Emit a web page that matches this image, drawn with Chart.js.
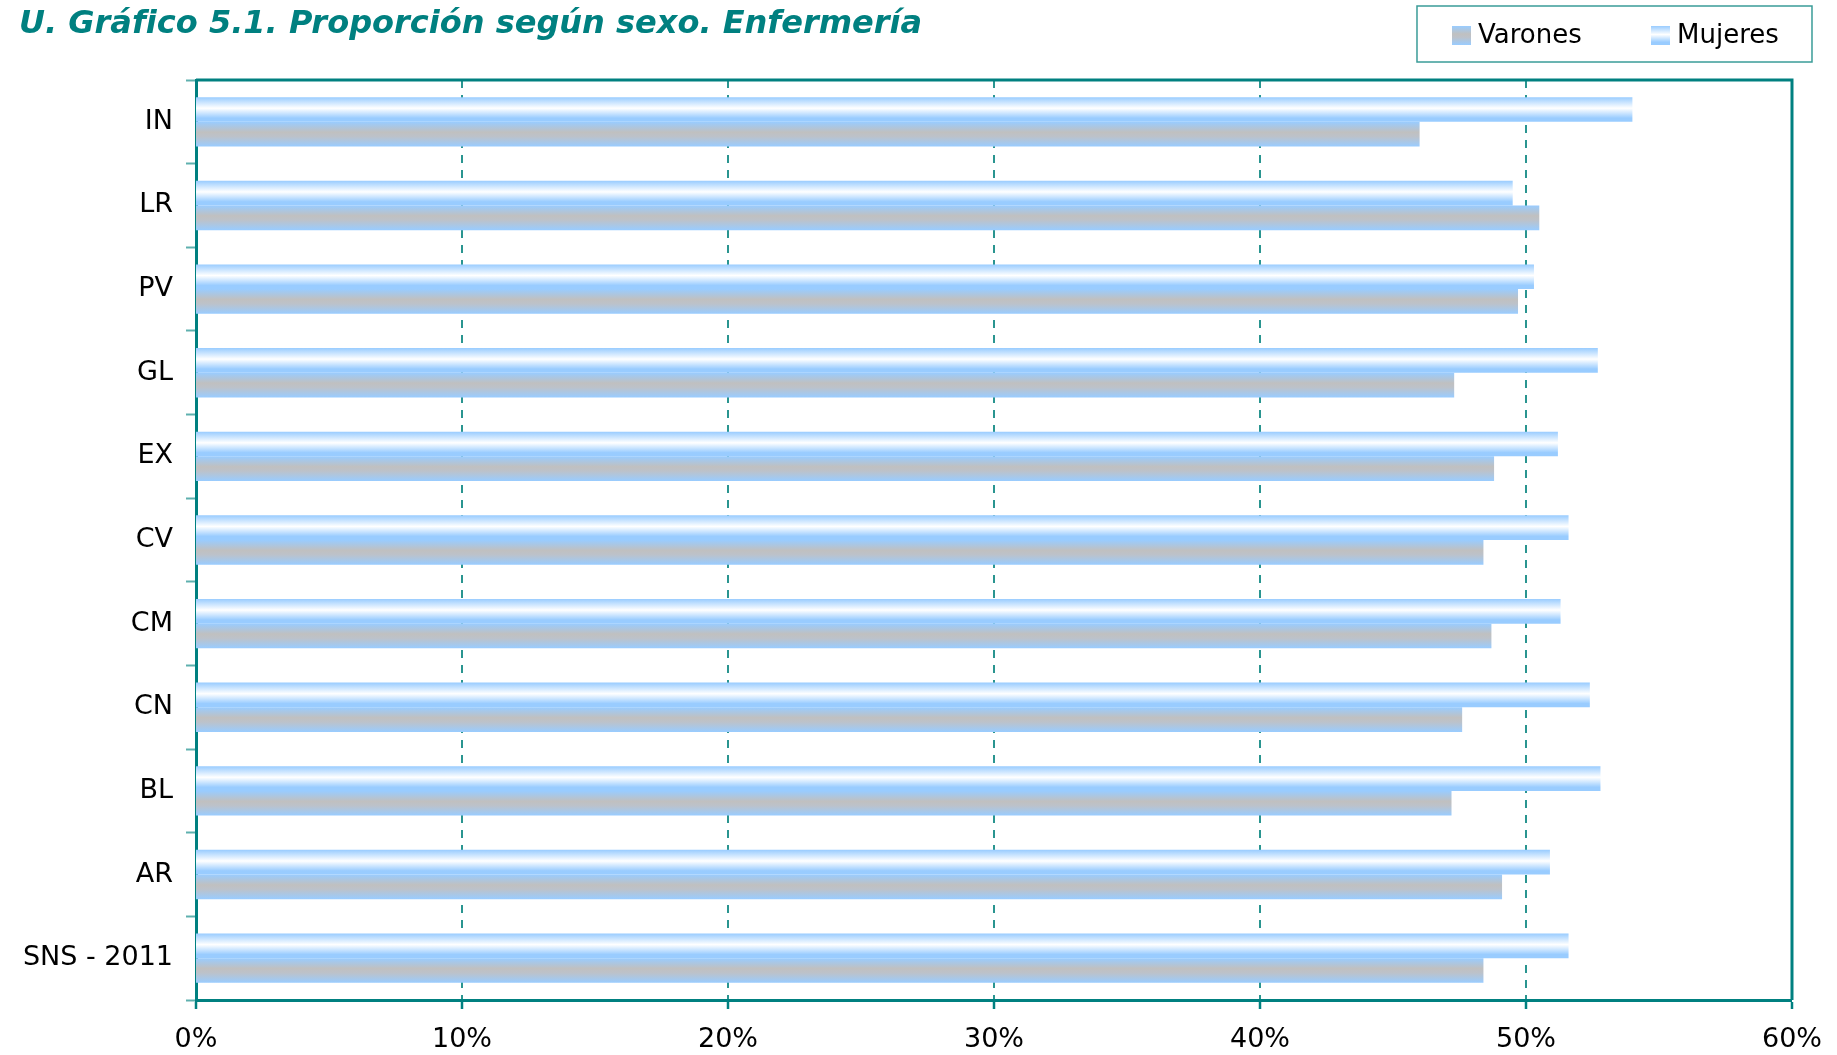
<!DOCTYPE html>
<html lang="es">
  <head>
    <meta charset="UTF-8" />
    <title>Proporción según sexo. Enfermería</title>
    <script src="https://cdn.jsdelivr.net/npm/chart.js"></script>
    <style>
      html, body { margin: 0; padding: 0; background: #fff; }
      #wrap { width: 1837px; height: 1055px; position: relative; }
    </style>
    <script>
      const labels = ["IN", "LR", "PV", "GL", "EX", "CV", "CM", "CN", "BL", "AR", "SNS - 2011"];
      const varones = [46.0, 50.5, 49.7, 47.3, 48.8, 48.4, 48.7, 47.6, 47.2, 49.1, 48.4];
      const mujeres = [54.0, 49.5, 50.3, 52.7, 51.2, 51.6, 51.3, 52.4, 52.8, 50.9, 51.6];
      const xTicks = [0, 10, 20, 30, 40, 50, 60];
      const titleText = "U. Gráfico 5.1. Proporción según sexo. Enfermería";

      const TEAL = "#008080";
      const FONT = "'DejaVu Sans', Verdana, sans-serif";
      const CAT_PCT = 0.59;

      const MUJERES_STOPS = [[0, "#99ccff"], [0.45, "#ffffff"], [0.85, "#99ccff"], [1, "#99ccff"]];
      const VARONES_STOPS = [[0, "#99ccff"], [0.42, "#c0c0c0"], [0.6, "#bcc2ca"], [1, "#99ccff"]];

      function makeGradient(ctx2d, top, height, stops) {
        const g = ctx2d.createLinearGradient(0, top, 0, top + height);
        stops.forEach(([p, c]) => g.addColorStop(p, c));
        return g;
      }

      // slot 0 = upper bar of the group, slot 1 = lower bar
      function barFill(stops, slot) {
        return (ctx) => {
          const chart = ctx.chart;
          const yScale = chart.scales.y;
          if (ctx.type !== "data" || !yScale) return stops[0][1];
          const band = (yScale.bottom - yScale.top) / labels.length;
          const size = (band * CAT_PCT) / 2;
          const center = yScale.getPixelForValue(ctx.dataIndex);
          const top = center - size + slot * size;
          if (!isFinite(top) || !isFinite(size) || size <= 0) return stops[0][1];
          return makeGradient(chart.ctx, top, size, stops);
        };
      }

      const frameAndLegend = {
        id: "frameAndLegend",
        afterDraw(chart) {
          const { ctx, chartArea } = chart;
          ctx.save();
          // top and right frame lines
          ctx.strokeStyle = TEAL;
          ctx.lineWidth = 3;
          ctx.beginPath();
          ctx.moveTo(chartArea.left, chartArea.top);
          ctx.lineTo(chartArea.right, chartArea.top);
          ctx.lineTo(chartArea.right, chartArea.bottom);
          ctx.stroke();

          // title
          ctx.fillStyle = TEAL;
          ctx.font = "italic bold 32px " + FONT;
          ctx.textBaseline = "alphabetic";
          ctx.textAlign = "left";
          ctx.fillText(titleText, 19, 33);

          // legend box
          const boxRight = chartArea.right + 20;
          const boxLeft = boxRight - 395;
          ctx.strokeStyle = "#3a9c98";
          ctx.lineWidth = 1.5;
          ctx.strokeRect(boxLeft, 6, 395, 56);
          const items = [
            ["Varones", VARONES_STOPS, boxLeft + 35],
            ["Mujeres", MUJERES_STOPS, boxLeft + 234],
          ];
          ctx.font = "26px " + FONT;
          ctx.textBaseline = "middle";
          items.forEach(([text, stops, x]) => {
            ctx.fillStyle = makeGradient(ctx, 26, 19, stops);
            ctx.fillRect(x, 26, 19, 19);
            ctx.fillStyle = "#000";
            ctx.fillText(text, x + 26, 36);
          });
          ctx.restore();
        },
      };

      document.addEventListener("DOMContentLoaded", function () {
        const config = {
          type: "bar",
          data: {
            labels: labels,
            datasets: [
              {
                label: "Mujeres",
                data: mujeres,
                backgroundColor: barFill(MUJERES_STOPS, 0),
                borderWidth: 0,
              },
              {
                label: "Varones",
                data: varones,
                backgroundColor: barFill(VARONES_STOPS, 1),
                borderWidth: 0,
              },
            ],
          },
          options: {
            indexAxis: "y",
            responsive: true,
            maintainAspectRatio: false,
            animation: false,
            categoryPercentage: CAT_PCT,
            barPercentage: 1.0,
            layout: { padding: { top: 80, right: 45, left: 0, bottom: 0 } },
            plugins: {
              legend: { display: false },
              tooltip: { enabled: false },
            },
            scales: {
              x: {
                min: xTicks[0],
                max: xTicks[xTicks.length - 1],
                afterFit: (scale) => { scale.height = 55; },
                ticks: {
                  stepSize: 10,
                  color: "#000",
                  padding: 15,
                  font: { size: 27, family: FONT },
                  callback: (v) => v + "%",
                },
                grid: {
                  color: "#2a9590",
                  lineWidth: (c) => (c.index === 0 ? 0 : 2),
                  tickLength: 9,
                  tickColor: TEAL,
                  tickWidth: 2.5,
                },
                border: { color: TEAL, width: 3, dash: [8, 7] },
              },
              y: {
                afterFit: (scale) => { scale.width = 196; },
                ticks: {
                  color: "#000",
                  padding: 13,
                  font: { size: 27, family: FONT },
                },
                grid: {
                  offset: true,
                  drawOnChartArea: false,
                  tickLength: 10,
                  tickColor: "#5fb0ae",
                  tickWidth: 2,
                },
                border: { color: TEAL, width: 3 },
              },
            },
          },
          plugins: [frameAndLegend],
        };
        new Chart(document.getElementById("chart"), config);
      });
    </script>
  </head>
  <body>
    <div id="wrap">
      <canvas id="chart"></canvas>
    </div>
  </body>
</html>
